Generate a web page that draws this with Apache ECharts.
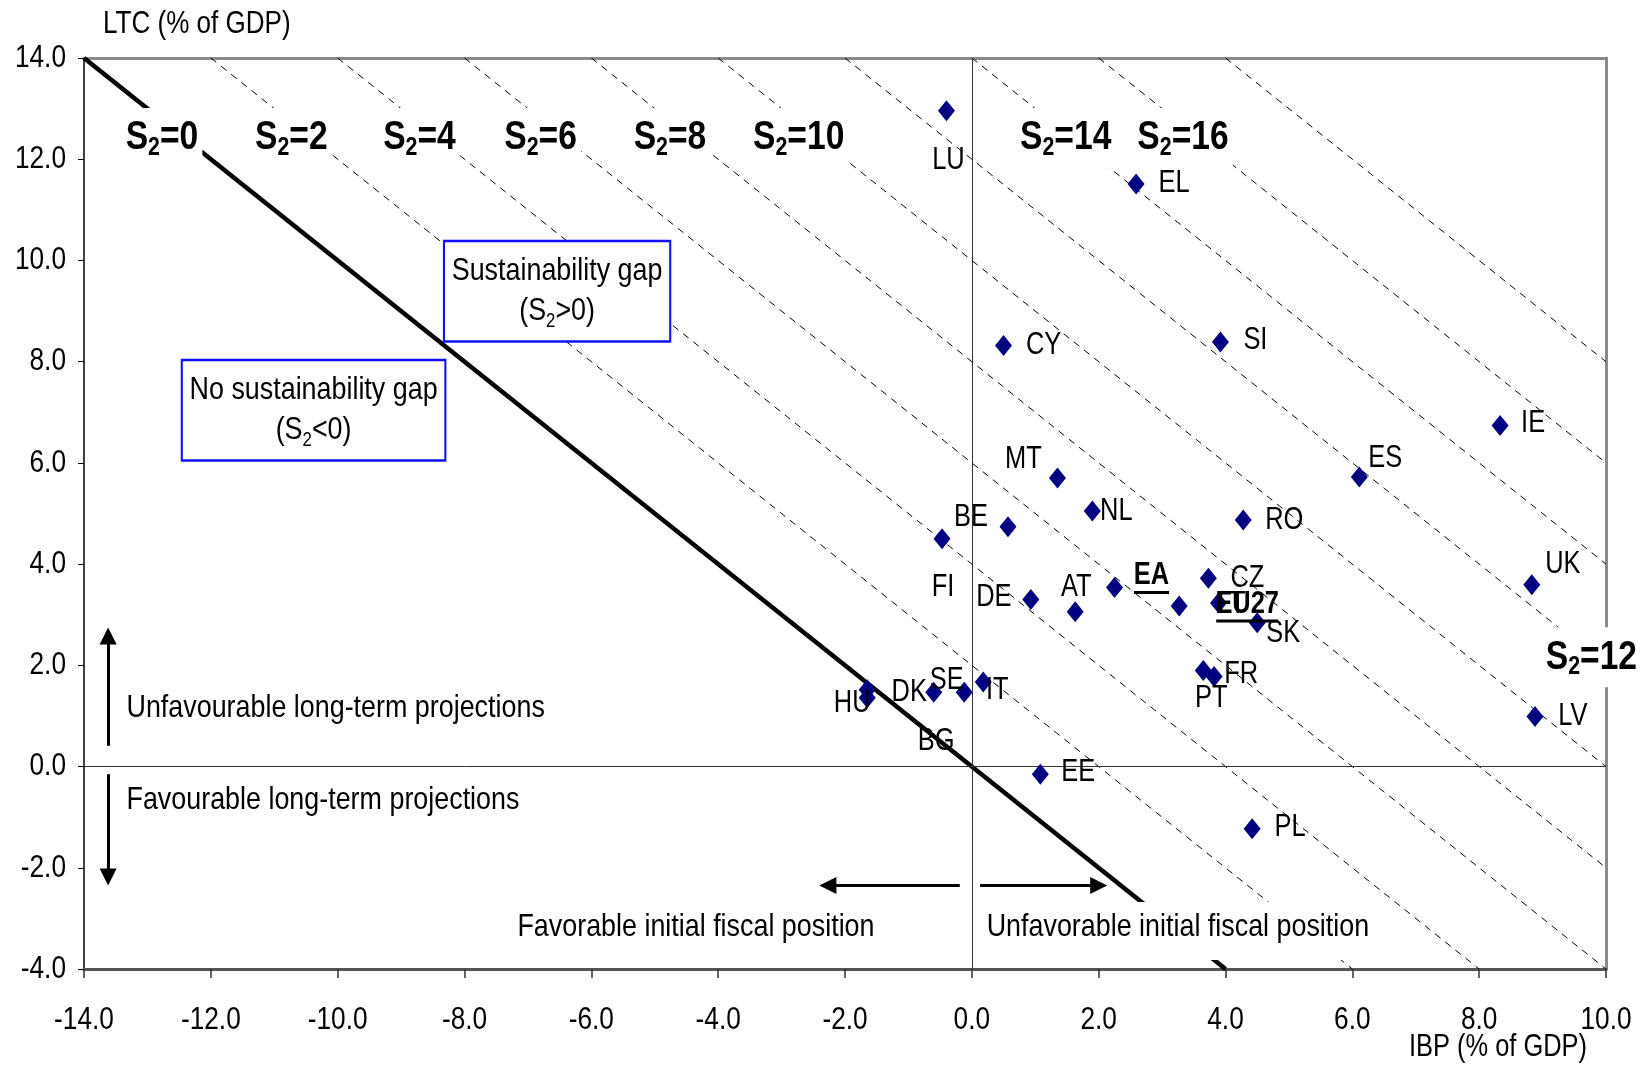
<!DOCTYPE html>
<html><head><meta charset="utf-8">
<script src="https://cdn.jsdelivr.net/npm/echarts@6/dist/echarts.min.js"></script>
<style>html,body{margin:0;padding:0;background:#fff}#c{width:1651px;height:1065px}</style>
</head><body><div id="c"></div>
<script>
// ---------------- data ----------------
const countries = ['LU','EL','CY','SI','IE','ES','MT','NL','RO','BE','FI','UK','CZ','EA','DE','AT','EU27','LT','SK','PT','FR','IT','SE','BG','DK','HU','LV','EE','PL'];
const ibp = [-0.40,2.59,0.50,3.92,8.33,6.11,1.35,1.90,4.28,0.57,-0.47,8.83,3.73,2.25,0.93,1.63,3.27,3.89,4.50,3.65,3.82,0.18,-0.60,-0.12,-1.65,-1.65,8.88,1.08,4.42];
const ltc = [12.96,11.51,8.32,8.39,6.74,5.72,5.70,5.05,4.87,4.74,4.50,3.59,3.72,3.54,3.30,3.06,3.17,3.23,2.84,1.90,1.78,1.67,1.47,1.47,1.52,1.36,0.99,-0.15,-1.23];
const aggregates = ['EA','EU27'];
const s2Values = [0,2,4,6,8,10,12,14,16,18];
const s2LabelValues = [0,2,4,6,8,10,14,16,12];
const s2LabelX = [-12.77,-10.73,-8.71,-6.80,-4.76,-2.73,1.48,3.33,9.77];
const s2LabelY = [12.42,12.42,12.42,12.42,12.42,12.42,12.42,12.42,2.16];
const xTicks = {min:-14, max:10, step:2};
const yTicks = {min:-4, max:14, step:2};

// ---------------- layout / style ----------------
const FONT = "'Liberation Sans', Arial, sans-serif";
const NARROW = 0.82;   // horizontal squeeze to imitate a narrow face
const labelOffsets = {
  LU:[2,50], EL:[38,-1], CY:[40,0], SI:[35,-1], IE:[33,-2], ES:[26,-19], MT:[-34,-19],
  NL:[24,0], RO:[41,0], BE:[-37,-9], FI:[1,49], UK:[31,-20], CZ:[39,0], EA:[37,-12],
  DE:[-37,-2], AT:[1,-24], EU27:[68,-2], LT:[13,1], SK:[26,11], PT:[8,28], FR:[27,-2],
  IT:[14,8], SE:[13,-12], BG:[-28,49], DK:[42,3], HU:[-15,6], LV:[38,0], EE:[38,-2], PL:[38,-1]
};
const notes = [
  {at:[-6.54,9.39], text:'{t|Sustainability gap}\n{t|(S}{s|2}{t|>0)}', kind:'box'},
  {at:[-10.38,7.04], text:'{t|No sustainability gap}\n{t|(S}{s|2}{t|<0)}', kind:'box'},
  {at:[-13.33,1.16], text:'{t|Unfavourable long-term projections}', kind:'left'},
  {at:[-13.33,-0.66], text:'{t|Favourable long-term projections}', kind:'left'},
  {at:[-4.35,-3.25], text:'{t|Favorable initial fiscal position}', kind:'cover'},
  {at:[3.25,-3.25], text:'{t|Unfavorable initial fiscal position}', kind:'cover'}
];
const arrows = [
  [[-13.62,0.41],[-13.62,2.58]],
  [[-13.62,-0.15],[-13.62,-2.18]],
  [[-0.19,-2.35],[-2.27,-2.35]],
  [[0.13,-2.35],[2.00,-2.35]]
];

function s2Segment(c){ // IBP + LTC = c, clipped to the plot window
  const start = [c - yTicks.max, yTicks.max];
  const end = (c - xTicks.max >= yTicks.min) ? [xTicks.max, c - xTicks.max] : [c - yTicks.min, yTicks.min];
  return [start, end];
}
function ticks(t){ const out=[]; for (let v=t.min; v<=t.max+1e-9; v+=t.step) out.push(v); return out; }

const chart = echarts.init(document.getElementById('c'));

const series = [];
s2Values.forEach(c => {
  series.push({
    type:'line', data:s2Segment(c), symbol:'none', silent:true, z:1,
    lineStyle: c === 0 ? {color:'#000', width:4.5, type:'solid'} : {color:'#000', width:1, type:[7,6]}
  });
});
series.push({
  type:'line', data:[], z:3, silent:true,
  markLine:{
    silent:true, symbol:'none', label:{show:false}, animation:false,
    lineStyle:{color:'#333', width:1, type:'solid'},
    data:[{xAxis:0},{yAxis:0}]
  }
});
series.push({
  type:'line', data:[], z:6, silent:true,
  markLine:{
    silent:true, symbol:['none','triangle'], symbolSize:17, label:{show:false}, animation:false,
    lineStyle:{color:'#000', width:3, type:'solid', opacity:1},
    itemStyle:{color:'#000'},
    data: arrows.map(a=>[{coord:a[0]},{coord:a[1]}])
  }
});
const countrySeriesIndex = series.length;
series.push({
  type:'scatter', symbol:'diamond', symbolSize:[17,21], z:10,
  itemStyle:{color:'#000080', opacity:1},
  data: countries.map((n,i)=>({name:n, value:[ibp[i], ltc[i]]})),
  label:{show:false}
});

chart.setOption({
  animation:false,
  backgroundColor:'#fff',
  grid:{left:84, right:45, top:58, bottom:96},
  xAxis:[
    {type:'value', min:xTicks.min, max:xTicks.max, interval:xTicks.step, position:'bottom',
     axisLine:{show:true, onZero:false, lineStyle:{color:'#555', width:3}},
     axisTick:{show:true, length:9, lineStyle:{color:'#333', width:1.5}},
     axisLabel:{show:false}, splitLine:{show:false}},
    {type:'value', min:xTicks.min, max:xTicks.max, position:'top',
     axisLine:{show:true, onZero:false, lineStyle:{color:'#8a8a8a', width:3}},
     axisTick:{show:false}, axisLabel:{show:false}, splitLine:{show:false}}
  ],
  yAxis:[
    {type:'value', min:yTicks.min, max:yTicks.max, interval:yTicks.step, position:'left',
     axisLine:{show:true, onZero:false, lineStyle:{color:'#000', width:1.5}},
     axisTick:{show:true, length:6, lineStyle:{color:'#000', width:1}},
     axisLabel:{show:false}, splitLine:{show:false}},
    {type:'value', min:yTicks.min, max:yTicks.max, position:'right',
     axisLine:{show:true, onZero:false, lineStyle:{color:'#8a8a8a', width:3}},
     axisTick:{show:false}, axisLabel:{show:false}, splitLine:{show:false}}
  ],
  series
});

// ---------------- texts (narrowed) anchored through the axes ----------------
const px = d => chart.convertToPixel({seriesIndex:countrySeriesIndex}, d);
function textEl(x, y, style, z, sx){
  return {type:'text', x, y, scaleX:sx || NARROW, z:z, silent:true,
    style:Object.assign({fontSize:31, fontFamily:FONT, fill:'#000', align:'center', verticalAlign:'middle',
                         textAlign:'center', textVerticalAlign:'middle'}, style)};
}
const graphics = [];
const fmt = v => v.toFixed(1);
// tick labels
ticks(xTicks).forEach(v=>{
  const p = px([v, yTicks.min]);
  graphics.push(textEl(p[0], p[1] + 51, {text:fmt(v), fontSize:32}, 5));
});
ticks(yTicks).forEach(v=>{
  const p = px([xTicks.min, v]);
  graphics.push(textEl(p[0] - 18, p[1], {text:fmt(v), fontSize:32, align:'right', textAlign:'right'}, 5));
});
// axis titles
graphics.push(textEl(103, 24, {text:'LTC (% of GDP)', fontSize:31, align:'left', textAlign:'left'}, 5, 0.84));
graphics.push(textEl(1409, 1047, {text:'IBP (% of GDP)', fontSize:31, align:'left', textAlign:'left'}, 5, 0.82));

// S2 labels
const s2Rich = {
  b:{fontSize:41, fontWeight:'bold', fontFamily:FONT, fill:'#000', color:'#000', lineHeight:46},
  sb:{fontSize:26, fontWeight:'bold', fontFamily:FONT, fill:'#000', color:'#000', lineHeight:16, verticalAlign:'bottom'}
};
s2LabelValues.forEach((v,i)=>{
  const p = px([s2LabelX[i], s2LabelY[i]]);
  graphics.push(textEl(p[0], p[1], {text:'{b|S}{sb|2}{b|=' + v + '}', rich:s2Rich,
    backgroundColor:'#fff', padding:[7,5]}, 5));
});

// notes
const noteRich = {
  t:{fontSize:32, fontFamily:FONT, fill:'#000', color:'#000', lineHeight:40},
  s:{fontSize:20, fontFamily:FONT, fill:'#000', color:'#000', lineHeight:10, verticalAlign:'bottom'}
};
const noteRichC = {t:Object.assign({}, noteRich.t, {lineHeight:34})};
notes.forEach(n=>{
  const p = px(n.at);
  let st = {text:n.text, rich:noteRich};
  if (n.kind === 'box') Object.assign(st, {backgroundColor:'#fff', borderColor:'#1010ff', borderWidth:2.5, padding:[9,8]});
  if (n.kind === 'left') Object.assign(st, {align:'left', textAlign:'left'});
  if (n.kind === 'cover') Object.assign(st, {rich:noteRichC, backgroundColor:'#fff', padding:[8,4,16,4]});
  graphics.push(textEl(p[0], p[1], st, 5, 0.84));
});

// country labels
const ulWidth = {EA:35, EU27:62};
countries.forEach((n,i)=>{
  const p = px([ibp[i], ltc[i]]);
  const cx = p[0] + labelOffsets[n][0], cy = p[1] + labelOffsets[n][1];
  const bold = aggregates.includes(n);
  graphics.push(textEl(cx, cy, {text:n, fontWeight: bold ? 'bold' : 'normal'}, 11));
  if (bold) {
    graphics.push({type:'line', z:11, silent:true,
      shape:{x1:cx-ulWidth[n]/2, y1:cy+17, x2:cx+ulWidth[n]/2, y2:cy+17},
      style:{stroke:'#000', lineWidth:3}});
  }
});
chart.setOption({graphic:{elements:graphics}});
</script>
</body></html>
